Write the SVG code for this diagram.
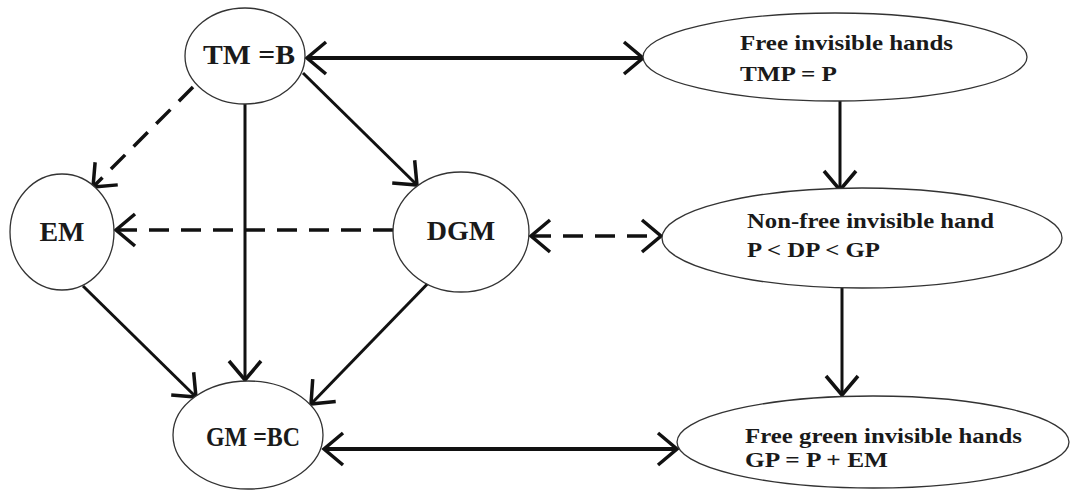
<svg xmlns="http://www.w3.org/2000/svg" width="1071" height="490" viewBox="0 0 1071 490">
<style>
.node{fill:#fff;stroke:#333;stroke-width:1.3}
.lbl{font-family:"Liberation Serif","Times New Roman",serif;font-weight:bold;fill:#1a1a1a}
.big{font-size:28px}
.sm{font-size:22px}
.c{fill:none;stroke:#111;stroke-width:3}
.thick{stroke-width:4}
.d{stroke-dasharray:20 12;stroke-width:3.5}
</style>
<defs>
<marker id="ah" markerUnits="userSpaceOnUse" markerWidth="40" markerHeight="40" viewBox="-30 -20 34 40" refX="0" refY="0" orient="auto-start-reverse" overflow="visible">
<path d="M-19,-16 L0,0 L-19,16" fill="none" stroke="#111" stroke-width="3.5"/>
</marker>
</defs>
<rect width="1071" height="490" fill="#fff"/>
<g id="connectors">
<line class="c thick" x1="307" y1="58" x2="643" y2="58" marker-start="url(#ah)" marker-end="url(#ah)"/>
<line class="c" x1="840" y1="101" x2="840" y2="190" marker-end="url(#ah)"/>
<line class="c" x1="842" y1="288" x2="842" y2="395" marker-end="url(#ah)"/>
<line class="c d" x1="531" y1="236" x2="661" y2="236" marker-start="url(#ah)" marker-end="url(#ah)"/>
<line class="c d" x1="393" y1="230" x2="116" y2="230" marker-end="url(#ah)"/>
<line class="c d" x1="193" y1="87" x2="93" y2="187" marker-end="url(#ah)"/>
<line class="c" x1="303" y1="73" x2="417" y2="185" marker-end="url(#ah)"/>
<line class="c" x1="245" y1="104" x2="245" y2="380" marker-end="url(#ah)"/>
<line class="c" x1="83" y1="286" x2="196" y2="397" marker-end="url(#ah)"/>
<line class="c" x1="437" y1="274" x2="311" y2="404" marker-end="url(#ah)"/>
<line class="c thick" x1="324" y1="449" x2="677" y2="449" marker-start="url(#ah)" marker-end="url(#ah)"/>
</g>
<g id="tm">
<ellipse class="node" cx="245" cy="56" rx="60" ry="48"/>
<text class="lbl big" x="203" y="64" textLength="92" lengthAdjust="spacingAndGlyphs">TM =B</text>
</g>
<g id="em">
<ellipse class="node" cx="62" cy="232" rx="52" ry="58"/>
<text class="lbl big" x="62" y="241" text-anchor="middle">EM</text>
</g>
<g id="dgm">
<ellipse class="node" cx="461" cy="232" rx="68" ry="60"/>
<text class="lbl big" x="461" y="240" text-anchor="middle">DGM</text>
</g>
<g id="gm">
<ellipse class="node" cx="248" cy="435" rx="75" ry="54"/>
<text class="lbl big" x="206" y="446" textLength="94" lengthAdjust="spacingAndGlyphs">GM =BC</text>
</g>
<g id="free">
<ellipse class="node" cx="835" cy="57" rx="192" ry="44"/>
<text class="lbl sm" x="740" y="50" textLength="213" lengthAdjust="spacingAndGlyphs">Free invisible hands</text>
<text class="lbl sm" x="740" y="81" textLength="97" lengthAdjust="spacingAndGlyphs">TMP = P</text>
</g>
<g id="nonfree">
<ellipse class="node" cx="862" cy="238" rx="200" ry="50"/>
<text class="lbl sm" x="747" y="228" textLength="247" lengthAdjust="spacingAndGlyphs">Non-free invisible hand</text>
<text class="lbl sm" x="747" y="257" textLength="133" lengthAdjust="spacingAndGlyphs">P &lt; DP &lt; GP</text>
</g>
<g id="green">
<ellipse class="node" cx="873" cy="442" rx="196" ry="46"/>
<text class="lbl sm" x="745" y="443" textLength="277" lengthAdjust="spacingAndGlyphs">Free green invisible hands</text>
<text class="lbl sm" x="745" y="467" textLength="143" lengthAdjust="spacingAndGlyphs">GP = P + EM</text>
</g>
</svg>
